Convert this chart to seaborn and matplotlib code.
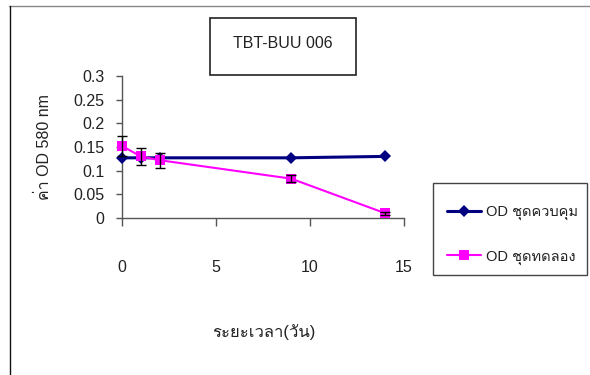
import matplotlib
matplotlib.use("Agg")
import matplotlib.pyplot as plt
import seaborn as sns
import pandas as pd
from matplotlib import font_manager
from matplotlib.ft2font import FT2Font
from matplotlib.patches import Rectangle
from matplotlib.lines import Line2D

# ---- data ----
days = [0, 1, 2, 9, 14]
control = [0.127, 0.127, 0.127, 0.127, 0.130]
treatment = [0.152, 0.130, 0.122, 0.083, 0.010]
treatment_err = [0.022, 0.018, 0.016, 0.008, 0.003]
series_names = ["OD ชุดควบคุม", "OD ชุดทดลอง"]
title_text = "TBT-BUU 006"
x_label = "ระยะเวลา(วัน)"
y_label = "ค่า OD 580 nm"
x_ticks = [0, 5, 10, 15]
y_ticks = [0, 0.05, 0.1, 0.15, 0.2, 0.25, 0.3]
y_tick_labels = ["0", "0.05", "0.1", "0.15", "0.2", "0.25", "0.3"]

sns.set_theme(style="white")

# find a font with Thai glyphs
thai_font = None
for f in font_manager.fontManager.ttflist:
    try:
        if ord("ค") in FT2Font(f.fname).get_charmap():
            thai_font = f.name
            break
    except Exception:
        pass
families = ["Liberation Sans"] + ([thai_font] if thai_font else []) + ["DejaVu Sans"]
plt.rcParams["font.family"] = families

navy = "#000080"
magenta = "#FF00FF"
txt = "#222222"
fs = 11.5

df = pd.DataFrame({
    "day": days * 2,
    "od": control + treatment,
    "series": [series_names[0]] * len(days) + [series_names[1]] * len(days),
})

fig = plt.figure(figsize=(5.9, 3.75), dpi=100)
ax = fig.add_axes([0.2068, 0.4187, 0.478, 0.379])

sns.lineplot(data=df, x="day", y="od", hue="series", style="series",
             palette={series_names[0]: navy, series_names[1]: magenta},
             markers={series_names[0]: "D", series_names[1]: "s"},
             dashes=False, ax=ax, legend=False, clip_on=False, zorder=3,
             markeredgewidth=0)
for ln, lw, ms in zip(ax.lines, [2.2, 1.5], [6, 7]):
    ln.set_linewidth(lw)
    ln.set_markersize(ms)
    ln.set_clip_on(False)

ax.errorbar(days, treatment, yerr=treatment_err, fmt="none", ecolor="black",
            elinewidth=1, capsize=3.6, capthick=1, zorder=4, clip_on=False)

ax.set_xlim(0, 15)
ax.set_ylim(0, 0.3)
ax.set_xticks(x_ticks)
ax.set_yticks(y_ticks)
ax.set_yticklabels(y_tick_labels)
ax.set_xlabel("")
ax.set_ylabel("")
for s in ["top", "right"]:
    ax.spines[s].set_visible(False)
for s in ["left", "bottom"]:
    ax.spines[s].set_color("#555555")
    ax.spines[s].set_linewidth(1.0)
ax.tick_params(axis="x", direction="out", length=5.5, width=1, color="#555555",
               pad=25, labelsize=fs, labelcolor=txt, bottom=True)
ax.tick_params(axis="y", direction="out", length=4.5, width=1, color="#555555",
               pad=8, labelsize=fs, labelcolor=txt, left=True)
ax.grid(False)

fig.text(44 / 590, 1 - 147 / 375, y_label, rotation=90, ha="center", va="center",
         fontsize=fs, color=txt)
fig.text(264 / 590, 1 - 332 / 375, x_label, ha="center", va="center",
         fontsize=12, color=txt)

# title box
fig.patches.append(Rectangle((210 / 590, 1 - 75 / 375), 146 / 590, 57 / 375,
                             transform=fig.transFigure, fill=False,
                             edgecolor="#222222", linewidth=1.2))
fig.text(283 / 590, 1 - 44 / 375, title_text, ha="center", va="center",
         fontsize=fs, color=txt)

# legend box
fig.patches.append(Rectangle((433 / 590, 1 - 275 / 375), 154 / 590, 92 / 375,
                             transform=fig.transFigure, fill=False,
                             edgecolor="#444444", linewidth=1.0))
handles = [
    Line2D([], [], color=navy, lw=2.2, marker="D", markersize=6, markeredgewidth=0),
    Line2D([], [], color=magenta, lw=1.5, marker="s", markersize=7, markeredgewidth=0),
]
fig.legend(handles, series_names, loc="center left",
           bbox_to_anchor=(434 / 590, 1 - 235 / 375), frameon=False,
           fontsize=10.5, labelspacing=2.0, handlelength=2.3, handletextpad=0.4,
           borderpad=0.4, labelcolor=txt)

# outer border
fig.add_artist(Line2D([9 / 590, 1], [1 - 6 / 375, 1 - 6 / 375],
                      transform=fig.transFigure, color="#888888", lw=1))
fig.add_artist(Line2D([10 / 590, 10 / 590], [0, 1 - 6 / 375],
                      transform=fig.transFigure, color="#111111", lw=1))

fig.savefig("out.png", dpi=100, facecolor="white")
